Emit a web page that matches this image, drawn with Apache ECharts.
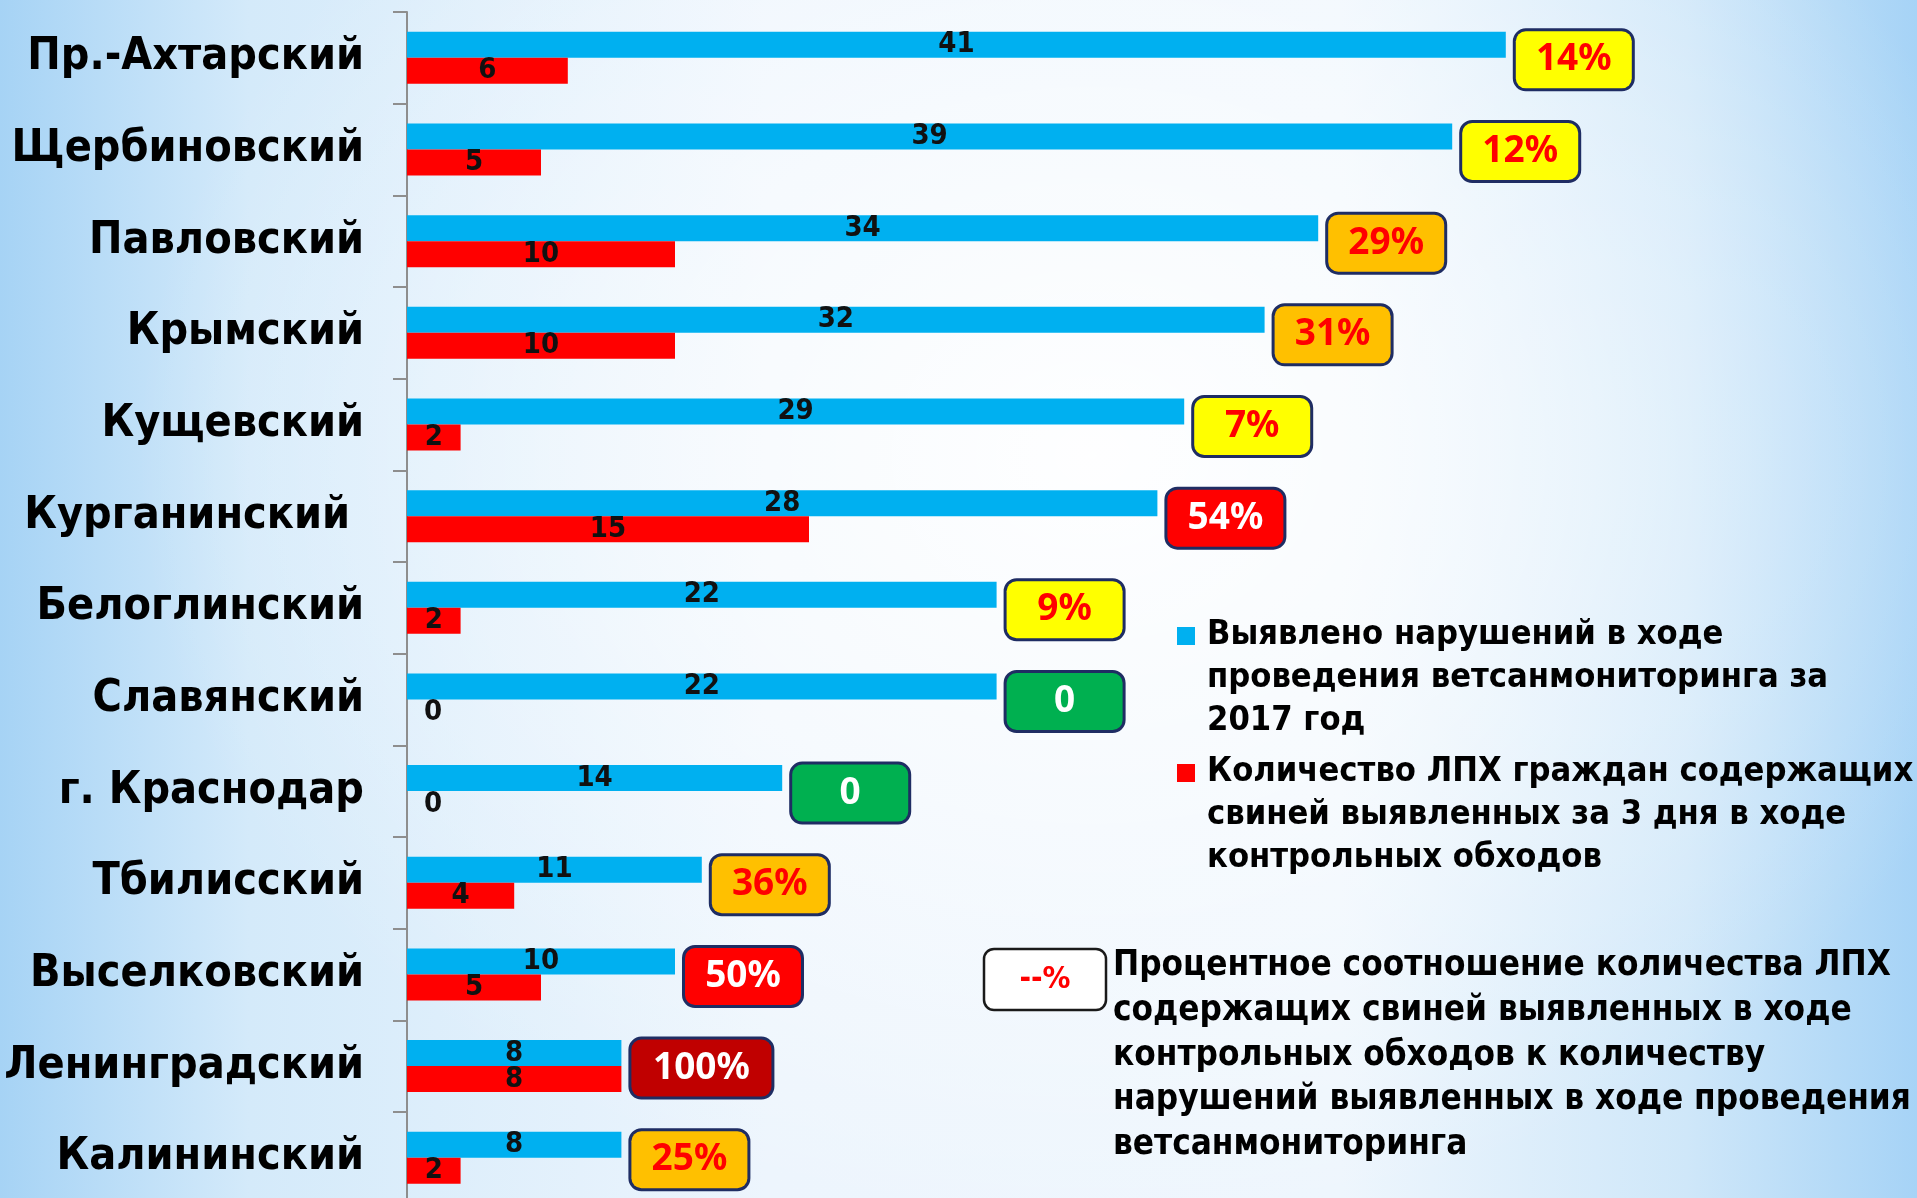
<!DOCTYPE html>
<html>
<head>
<meta charset="utf-8">
<script src="https://cdn.jsdelivr.net/npm/echarts@6/dist/echarts.min.js"></script>
<style>
  html, body { margin: 0; padding: 0; overflow: hidden; }
  body {
    width: 1917px; height: 1198px;
    background:
      radial-gradient(ellipse 50% 65% at 57% 38%, rgba(255,255,255,0.95) 0%, rgba(255,255,255,0) 100%),
      linear-gradient(90deg, #a6d3f5 0%, #d4eafa 13%, #edf5fd 40%, #eef6fd 70%, #cfe7f9 88%, #a6d3f6 100%);
  }
  #main { width: 1917px; height: 1198px; }
</style>
</head>
<body>
<div id="main"></div>
<script>
const districts = ['Пр.-Ахтарский', 'Щербиновский', 'Павловский', 'Крымский', 'Кущевский', 'Курганинский ',
  'Белоглинский', 'Славянский', 'г. Краснодар', 'Тбилисский', 'Выселковский', 'Ленинградский', 'Калининский']
const violations = [41, 39, 34, 32, 29, 28, 22, 22, 14, 11, 10, 8, 8]
const households = [6, 5, 10, 10, 2, 15, 2, 0, 0, 4, 5, 8, 2]
const ratioPct = [14, 12, 29, 31, 7, 54, 9, 0, 0, 36, 50, 100, 25]
const seriesNames = [
  'Выявлено нарушений в ходе\nпроведения ветсанмониторинга за\n2017 год',
  'Количество ЛПХ граждан содержащих\nсвиней выявленных за 3 дня в ходе\nконтрольных обходов'
]
const ratioNote = 'Процентное соотношение количества ЛПХ\nсодержащих свиней выявленных в ходе\nконтрольных обходов к количеству\nнарушений выявленных в ходе проведения\nветсанмониторинга'

const FONT = '"DejaVu Sans Condensed", "Liberation Sans Narrow", "DejaVu Sans", sans-serif'
const BADGE_FONT = '"Noto Sans", "Open Sans", sans-serif'
const BLUE = '#00b0f0'
const RED = '#ff0000'

function badgeClass (p) {
  if (p === 0) return 'g'
  if (p < 20) return 'y'
  if (p < 40) return 'o'
  if (p < 100) return 'r'
  return 'd'
}

const badgeBase = {
  width: 116, height: 57, lineHeight: 57, align: 'center',
  borderColor: '#1f2d63', borderWidth: 3, borderRadius: 10,
  fontSize: 37, fontWeight: 'bold', fontFamily: BADGE_FONT
}

const valueLabel = {
  show: true,
  position: 'inside',
  color: '#111',
  fontSize: 29,
  fontWeight: 'bold',
  fontFamily: FONT
}

let myChart = echarts.init(document.getElementById('main'))
let option = {
  animation: false,
  grid: { left: 407, top: 12, width: 1340, height: 1191.6, outerBoundsMode: 'none' },
  xAxis: { type: 'value', min: 0, max: 50, show: false, splitLine: { show: false } },
  yAxis: {
    type: 'category',
    data: districts,
    inverse: true,
    axisLine: { show: true, lineStyle: { color: '#8e8e8e', width: 2 } },
    axisTick: { show: true, length: 14, lineStyle: { color: '#8e8e8e', width: 2 } },
    axisLabel: { margin: 43, fontSize: 44.5, fontWeight: 'bold', color: '#000', fontFamily: FONT, padding: [7, 0, 0, 0] }
  },
  series: [
    {
      name: seriesNames[0],
      type: 'bar',
      data: violations,
      barWidth: 26,
      barGap: '0%',
      itemStyle: { color: BLUE },
      label: valueLabel
    },
    {
      name: seriesNames[1],
      type: 'bar',
      data: households.map(v => v === 0 ? { value: v, label: { position: 'right', distance: 17 } } : v),
      barWidth: 26,
      itemStyle: { color: RED },
      label: valueLabel
    },
    {
      // плашки с процентами справа от синих столбцов
      type: 'scatter',
      data: violations.map((v, i) => [v, i]),
      symbolSize: 0,
      silent: true,
      z: 5,
      itemStyle: { opacity: 1 },
      label: {
        show: true,
        opacity: 1,
        position: 'right',
        distance: 10,
        offset: [0, 2],
        formatter: p => {
          const pct = ratioPct[p.dataIndex]
          return `{${badgeClass(pct)}|${pct === 0 ? '0' : pct + '%'}}`
        },
        rich: {
          y: Object.assign({}, badgeBase, { backgroundColor: '#ffff00', color: RED }),
          o: Object.assign({}, badgeBase, { backgroundColor: '#ffc000', color: RED }),
          r: Object.assign({}, badgeBase, { backgroundColor: '#ff0000', color: '#fff' }),
          d: Object.assign({}, badgeBase, { backgroundColor: '#c00000', color: '#fff', width: 140 }),
          g: Object.assign({}, badgeBase, { backgroundColor: '#00b050', color: '#fff' })
        }
      }
    }
  ],
  graphic: [
    { type: 'rect', shape: { x: 1177, y: 627, width: 18, height: 18 }, style: { fill: BLUE } },
    {
      type: 'text', x: 1207, y: 614,
      style: { text: seriesNames[0], fill: '#000', fontSize: 34.2, fontWeight: 'bold', fontFamily: FONT, lineHeight: 43, verticalAlign: 'top' }
    },
    { type: 'rect', shape: { x: 1177, y: 764, width: 18, height: 18 }, style: { fill: RED } },
    {
      type: 'text', x: 1207, y: 751,
      style: { text: seriesNames[1], fill: '#000', fontSize: 34.2, fontWeight: 'bold', fontFamily: FONT, lineHeight: 43, verticalAlign: 'top' }
    },
    { type: 'rect', shape: { x: 984, y: 949, width: 122, height: 61, r: 10 }, style: { fill: '#fff', stroke: '#1a1a1a', lineWidth: 2.5 } },
    {
      type: 'text', x: 1045, y: 980,
      style: { text: '--%', fill: RED, fontSize: 31, fontWeight: 'bold', fontFamily: FONT, align: 'center', verticalAlign: 'middle' }
    },
    {
      type: 'text', x: 1113, y: 944,
      style: { text: ratioNote, fill: '#000', fontSize: 34.8, fontWeight: 'bold', fontFamily: FONT, lineHeight: 44.6, verticalAlign: 'top' }
    }
  ]
}
myChart.setOption(option)
</script>
</body>
</html>
